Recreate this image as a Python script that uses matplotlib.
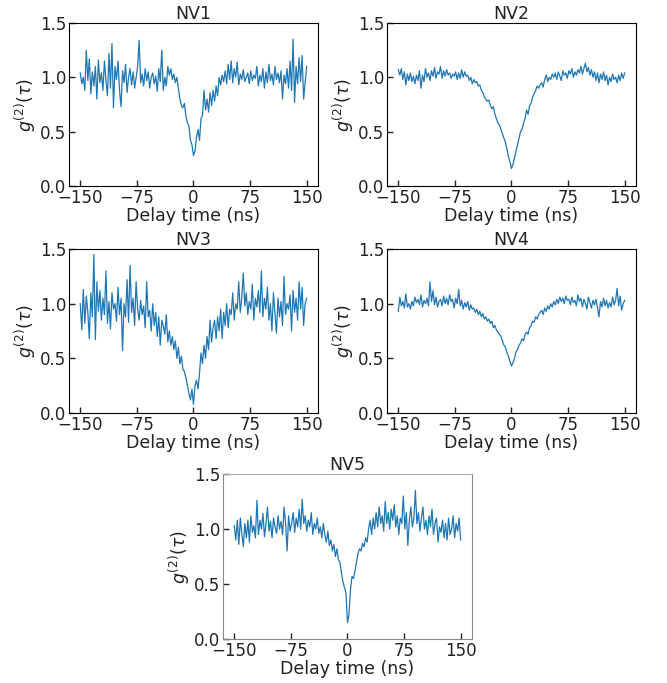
import matplotlib
matplotlib.use("Agg")
import matplotlib.pyplot as plt

# delay grid (ns), 2 ns bins
delay_ns = [-150, -148, -146, -144, -142, -140, -138, -136, -134, -132,
            -130, -128, -126, -124, -122, -120, -118, -116, -114, -112,
            -110, -108, -106, -104, -102, -100, -98, -96, -94, -92,
            -90, -88, -86, -84, -82, -80, -78, -76, -74, -72,
            -70, -68, -66, -64, -62, -60, -58, -56, -54, -52,
            -50, -48, -46, -44, -42, -40, -38, -36, -34, -32,
            -30, -28, -26, -24, -22, -20, -18, -16, -14, -12,
            -10, -8, -6, -4, -2, 0, 2, 4, 6, 8,
            10, 12, 14, 16, 18, 20, 22, 24, 26, 28,
            30, 32, 34, 36, 38, 40, 42, 44, 46, 48,
            50, 52, 54, 56, 58, 60, 62, 64, 66, 68,
            70, 72, 74, 76, 78, 80, 82, 84, 86, 88,
            90, 92, 94, 96, 98, 100, 102, 104, 106, 108,
            110, 112, 114, 116, 118, 120, 122, 124, 126, 128,
            130, 132, 134, 136, 138, 140, 142, 144, 146, 148,
            150]

g2_nv1 = [1.04, 0.94, 1.00, 0.88, 1.25, 0.97, 1.17, 0.85, 1.05, 0.92,
          1.10, 0.80, 1.16, 0.95, 1.04, 0.88, 1.15, 0.97, 0.83, 1.22,
          0.90, 1.31, 0.72, 1.10, 0.98, 1.15, 0.88, 0.73, 1.06, 0.95,
          1.12, 0.86, 1.00, 1.08, 0.93, 1.05, 0.90, 1.00, 1.10, 1.34,
          0.95, 1.03, 0.92, 1.08, 0.97, 1.05, 0.90, 1.00, 1.04, 0.94,
          1.01, 0.87, 1.08, 0.96, 1.25, 0.88, 1.00, 0.92, 1.10, 1.02,
          1.08, 0.98, 1.03, 0.95, 1.00, 0.90, 0.80, 0.74, 0.72, 0.76,
          0.64, 0.58, 0.55, 0.42, 0.38, 0.28, 0.32, 0.45, 0.52, 0.42,
          0.62, 0.65, 0.88, 0.70, 0.80, 0.68, 0.86, 0.74, 0.88, 0.78,
          0.92, 0.83, 1.00, 0.93, 1.02, 0.96, 1.06, 0.94, 1.12, 0.98,
          1.15, 0.95, 1.08, 1.00, 1.14, 0.93, 1.03, 0.98, 1.07, 0.96,
          1.00, 1.04, 0.94, 1.06, 0.97, 1.02, 0.99, 1.10, 0.92, 1.02,
          0.96, 1.08, 0.90, 1.05, 0.95, 1.12, 0.97, 1.03, 0.93, 1.10,
          0.98, 1.04, 0.95, 1.06, 0.80, 1.02, 0.94, 1.08, 0.90, 1.15,
          0.88, 1.35, 0.77, 1.10, 0.94, 1.18, 0.96, 1.20, 0.80, 0.95,
          1.10]

g2_nv2 = [1.07, 1.02, 1.08, 0.98, 1.05, 0.93, 1.03, 0.97, 1.04, 0.96,
          1.01, 0.94, 1.02, 0.97, 1.06, 0.90, 1.02, 0.96, 1.08, 1.00,
          1.04, 0.97, 1.06, 1.01, 1.09, 0.99, 1.05, 1.03, 1.10, 0.99,
          1.06, 1.01, 1.07, 1.02, 1.04, 0.99, 1.03, 1.01, 1.05, 0.98,
          1.04, 0.99, 1.07, 1.00, 1.05, 1.01, 1.02, 0.97, 1.00, 0.94,
          0.98, 0.95, 0.96, 0.92, 0.93, 0.88, 0.86, 0.82, 0.80, 0.78,
          0.79, 0.74, 0.71, 0.73, 0.66, 0.62, 0.58, 0.56, 0.52, 0.48,
          0.44, 0.40, 0.34, 0.27, 0.22, 0.16, 0.20, 0.26, 0.32, 0.38,
          0.44, 0.50, 0.52, 0.58, 0.62, 0.70, 0.66, 0.74, 0.76, 0.82,
          0.85, 0.88, 0.92, 0.90, 0.93, 0.95, 0.91, 0.98, 1.02, 0.96,
          1.00, 0.98, 1.03, 1.00, 1.04, 0.98, 1.05, 1.01, 0.97, 1.06,
          1.02, 1.04, 0.99, 1.06, 1.03, 1.08, 1.00, 1.05, 1.02, 1.07,
          1.04, 1.10, 1.03, 1.08, 1.13, 1.05, 1.09, 1.02, 1.07, 1.00,
          1.05, 0.97, 1.04, 0.95, 1.03, 0.98, 1.05, 0.97, 1.02, 0.93,
          1.00, 0.96, 1.03, 0.98, 1.00, 0.95, 1.02, 0.97, 1.04, 0.99,
          1.04]

g2_nv3 = [1.00, 0.76, 1.13, 0.82, 1.07, 0.92, 0.68, 1.10, 0.88, 1.45,
          0.67, 1.20, 0.93, 1.12, 0.85, 1.05, 0.90, 1.30, 0.82, 1.02,
          0.77, 1.10, 0.95, 1.00, 0.84, 1.15, 0.90, 1.05, 0.57, 1.00,
          0.88, 1.22, 0.83, 1.35, 0.92, 1.05, 0.80, 1.20, 0.95, 0.85,
          1.03, 0.90, 0.98, 0.78, 1.20, 0.88, 0.94, 0.75, 1.00, 0.80,
          0.92, 0.70, 0.88, 0.62, 0.85, 0.80, 0.72, 0.90, 0.65, 0.75,
          0.62, 0.70, 0.58, 0.66, 0.50, 0.60, 0.45, 0.52, 0.40, 0.38,
          0.32, 0.25, 0.18, 0.12, 0.22, 0.08, 0.25, 0.30, 0.22, 0.36,
          0.55, 0.45, 0.62, 0.50, 0.70, 0.58, 0.85, 0.65, 0.78, 0.85,
          0.68, 0.88, 0.75, 0.95, 0.68, 0.92, 0.80, 1.00, 0.78, 0.95,
          0.90, 1.10, 0.85, 1.00, 0.95, 1.20, 0.92, 1.05, 1.28, 0.98,
          1.10, 0.90, 1.02, 0.95, 1.18, 0.85, 1.05, 0.97, 1.12, 0.92,
          1.30, 0.88, 1.05, 0.95, 1.15, 0.85, 1.00, 0.75, 1.10, 0.92,
          0.73, 1.05, 0.88, 1.02, 0.80, 1.25, 0.90, 1.00, 0.95, 1.08,
          0.75, 1.12, 0.92, 1.05, 0.85, 1.20, 0.95, 1.15, 0.80, 1.00,
          1.05]

g2_nv4 = [0.93, 1.06, 0.98, 1.02, 0.96, 1.09, 0.97, 1.00, 0.95, 1.02,
          0.98, 1.06, 1.01, 1.04, 0.99, 1.08, 0.97, 1.03, 1.00, 1.05,
          0.98, 1.20, 1.02, 1.12, 0.99, 1.06, 0.97, 1.02, 1.04, 0.98,
          1.07, 1.00, 1.05, 0.99, 1.08, 1.02, 1.04, 0.96, 1.05, 1.00,
          1.13, 0.98, 1.03, 0.95, 1.01, 0.97, 1.02, 0.94, 0.99, 0.95,
          0.96, 0.92, 0.95, 0.90, 0.93, 0.88, 0.91, 0.86, 0.88, 0.84,
          0.86, 0.82, 0.84, 0.78, 0.80, 0.76, 0.74, 0.72, 0.70, 0.66,
          0.62, 0.60, 0.55, 0.52, 0.47, 0.43, 0.46, 0.50, 0.56, 0.58,
          0.62, 0.64, 0.68, 0.66, 0.72, 0.74, 0.72, 0.78, 0.80, 0.84,
          0.83, 0.88, 0.86, 0.90, 0.92, 0.94, 0.90, 0.96, 0.93, 0.98,
          0.95, 1.00, 0.97, 1.02, 0.99, 1.04, 1.00, 1.06, 1.02, 1.05,
          1.00, 1.07, 1.03, 1.04, 0.99, 1.06, 1.01, 1.03, 0.98, 1.08,
          1.02, 1.05, 0.97, 1.04, 1.00, 0.95, 1.06, 1.01, 0.96, 1.03,
          0.99, 1.04, 0.96, 0.88, 1.02, 0.97, 1.05, 0.98, 1.03, 0.96,
          1.01, 0.97, 1.06, 0.99, 1.03, 1.14, 0.98, 1.07, 0.94, 1.00,
          1.03]

g2_nv5 = [1.03, 0.90, 1.08, 0.86, 1.10, 0.95, 0.84, 1.05, 0.92, 1.08,
          0.88, 1.12, 0.97, 1.03, 0.92, 1.26, 0.95, 1.08, 1.00, 1.14,
          0.93, 1.05, 1.20, 0.98, 1.07, 0.92, 1.10, 1.02, 0.96, 1.12,
          1.00, 1.07, 0.95, 1.20, 1.05, 0.80, 1.12, 0.98, 1.05, 1.15,
          0.97, 1.10, 1.02, 1.18, 1.00, 1.27, 1.05, 1.12, 0.98, 1.08,
          1.02, 1.15, 0.95, 1.05, 1.00, 1.10, 0.96, 1.02, 0.92, 1.05,
          0.95, 0.88, 0.98, 0.85, 0.90, 0.80, 0.86, 0.75, 0.82, 0.72,
          0.70, 0.60, 0.52, 0.47, 0.42, 0.15, 0.22, 0.45, 0.57, 0.55,
          0.62, 0.70, 0.78, 0.82, 0.80, 0.87, 0.84, 0.92, 0.88, 1.00,
          1.08, 0.95, 1.10, 1.00, 1.15, 1.02, 1.20, 1.05, 1.12, 0.98,
          1.25, 1.05, 1.15, 1.00, 1.18, 1.08, 1.22, 1.02, 1.12, 0.95,
          1.10, 1.05, 1.30, 1.00, 1.15, 0.85, 1.08, 1.20, 1.02, 1.10,
          1.35, 1.05, 1.15, 0.98, 1.10, 1.20, 1.00, 1.08, 0.95, 1.12,
          1.02, 1.18, 0.95, 1.05, 1.10, 0.88, 1.02, 0.97, 1.08, 0.92,
          1.05, 0.90, 1.10, 0.95, 1.00, 1.12, 0.92, 1.05, 0.98, 1.10,
          0.90]

titles = ["NV1", "NV2", "NV3", "NV4", "NV5"]
series = [g2_nv1, g2_nv2, g2_nv3, g2_nv4, g2_nv5]
x_ticks = [-150, -75, 0, 75, 150]
y_ticks = [0.0, 0.5, 1.0, 1.5]

fig = plt.figure(figsize=(6.67, 6.83), dpi=100)

# axes boxes in figure fractions (left, bottom, width, height)
boxes = [
    [0.1034, 0.7277, 0.3733, 0.2387],
    [0.5802, 0.7277, 0.3733, 0.2387],
    [0.1034, 0.3953, 0.3733, 0.2401],
    [0.5802, 0.3953, 0.3733, 0.2401],
    [0.3343, 0.0644, 0.3733, 0.2416],
]

for i in range(5):
    ax = fig.add_axes(boxes[i])
    ax.plot(delay_ns, series[i], color="#1f77b4", lw=0.9)
    ax.set_xlim(-165, 165)
    ax.set_ylim(0, 1.5)
    ax.set_xticks(x_ticks)
    ax.set_yticks(y_ticks)
    ax.set_yticklabels(["0.0", "0.5", "1.0", "1.5"])
    ax.tick_params(direction="in", length=4, width=1, labelsize=12,
                   pad=2, colors="#222222")
    ax.set_title(titles[i], fontsize=12.5, pad=3, color="#222222")
    ax.set_xlabel("Delay time (ns)", fontsize=12.5, labelpad=0,
                  color="#222222")
    ax.set_ylabel(r"$g^{(2)}(\tau)$", fontsize=12.5, labelpad=1,
                  color="#222222")
    if i == 4:
        for s in ["left", "right", "bottom"]:
            ax.spines[s].set_color("#888888")
        ax.spines["top"].set_color("#aaaaaa")

fig.savefig("out.png", dpi=100)
